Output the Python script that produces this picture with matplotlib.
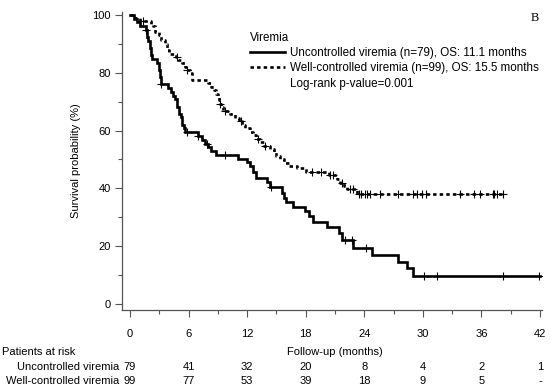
import matplotlib
matplotlib.use("Agg")
import matplotlib.pyplot as plt
from matplotlib.lines import Line2D
import matplotlib.transforms as mtransforms
import numpy as np

plt.rcParams['font.family'] = ['Liberation Sans', 'DejaVu Sans']

# ---- data ----
unc_times = [0, 0.4, 0.7, 1.0, 1.6, 1.7, 1.8, 2.0, 2.1, 2.3, 2.8, 3.0, 3.1, 3.2, 3.9, 4.2, 4.4,
             4.6, 4.8, 5.0, 5.2, 5.3, 5.5, 5.6, 7.0, 7.4, 7.7, 8.0, 8.3, 8.8, 11.1, 12.0, 12.3,
             12.6, 12.9, 14.0, 14.3, 15.6, 15.8, 16.0, 16.7, 17.9, 18.3, 18.7, 20.2, 21.4, 21.7,
             22.8, 24.8, 27.5, 28.4, 29.0, 42.0]
unc_surv = [100, 98.7, 97.5, 96.2, 94.9, 92.4, 91.1, 88.6, 86.1, 84.8, 83.5, 81.0, 78.5, 76.0, 74.7,
            73.4, 72.1, 70.8, 68.3, 65.8, 64.5, 62.0, 60.7, 59.4, 58.1, 56.8, 55.5, 54.2, 52.9, 51.6,
            50.3, 49.0, 47.6, 45.8, 43.6, 42.2, 40.4, 38.5, 36.7, 35.2, 33.6, 32.0, 30.4, 28.4, 26.6,
            24.4, 22.1, 19.4, 17.0, 14.5, 12.5, 9.7, 9.7]
unc_cens = [1.6, 3.2, 5.8, 7.0, 7.9, 9.7, 14.4, 22.0, 22.7, 24.2, 30.1, 31.4, 38.2, 41.9]

wel_times = [0, 0.5, 1.0, 2.1, 2.4, 2.6, 3.0, 3.2, 3.6, 3.8, 4.0, 4.7, 4.9, 5.3, 5.6, 5.8, 6.1, 6.4,
             8.0, 8.3, 8.6, 8.8, 9.0, 9.1, 9.2, 9.3, 9.5, 10.2, 10.8, 11.2, 11.5, 11.8, 12.3, 12.6,
             12.9, 13.3, 13.7, 14.3, 14.7, 15.0, 15.4, 15.8, 16.3, 17.1, 18.0, 20.4, 21.2, 21.5,
             21.9, 22.2, 23.2, 38.4]
wel_surv = [100, 99.0, 98.0, 97.0, 96.0, 94.0, 93.0, 91.3, 90.0, 88.0, 86.5, 85.4, 84.3, 83.2, 82.1,
            81.0, 79.8, 77.5, 76.4, 75.2, 74.0, 72.8, 71.6, 70.4, 69.2, 68.0, 66.8, 65.6, 64.4, 63.2,
            62.0, 60.8, 59.6, 58.4, 57.2, 56.0, 54.8, 53.6, 52.4, 51.2, 50.0, 48.8, 47.6, 46.9, 45.8,
            44.6, 43.3, 42.0, 40.9, 39.9, 38.2, 38.2]
wel_cens = [1.3, 4.8, 5.8, 9.2, 9.7, 11.4, 13.1, 13.8, 18.6, 19.6, 20.5, 20.8, 21.7, 22.5, 22.8,
            23.5, 23.7, 24.1, 24.3, 24.6, 25.6, 27.4, 29.0, 29.4, 29.9, 30.3, 33.8, 35.2, 35.8,
            37.2, 37.3, 37.6, 38.2]

risk_times = [0, 6, 12, 18, 24, 30, 36, 42]
risk_unc = ['79', '41', '32', '20', '8', '4', '2', '1']
risk_wel = ['99', '77', '53', '39', '18', '9', '5', '-']
xticks = [0, 6, 12, 18, 24, 30, 36, 42]
yticks = [0, 20, 40, 60, 80, 100]


def surv_at(times, surv, t):
    idx = np.searchsorted(times, t, side='right') - 1
    return np.array(surv)[idx]


fig = plt.figure(figsize=(5.5, 3.91), dpi=100)
ax = fig.add_axes([122/550, 1-310/391, (542-122)/550, (310-12)/391])

ax.step(unc_times, unc_surv, where='post', color='black', lw=1.9, solid_joinstyle='miter')
ax.step(wel_times, wel_surv, where='post', color='black', lw=1.9, ls=(0, (1.3, 1.2)))
ax.plot(unc_cens, surv_at(unc_times, unc_surv, unc_cens), ls='none', marker='+',
        color='black', ms=6, mew=0.8)
ax.plot(wel_cens, surv_at(wel_times, wel_surv, wel_cens), ls='none', marker='+',
        color='black', ms=6, mew=0.8)

ax.set_xlim(-0.82, 42.2)
ax.set_ylim(-2.1, 101)
ax.set_xticks(xticks)
ax.set_yticks(yticks)
ax.set_xticks(np.arange(3, 42, 6), minor=True)
ax.set_yticks(np.arange(10, 100, 20), minor=True)
for s in ['top', 'right']:
    ax.spines[s].set_visible(False)
for s in ['left', 'bottom']:
    ax.spines[s].set_color('#555555')
    ax.spines[s].set_linewidth(0.9)
ax.tick_params(which='major', length=5, width=0.8, color='#555555', labelsize=8, pad=9)
ax.tick_params(which='minor', length=3, width=0.8, color='#555555')
ax.tick_params(axis='y', pad=3)
ax.set_ylabel('Survival probability (%)', fontsize=8, labelpad=8)

handles = [Line2D([], [], color='black', lw=1.9),
           Line2D([], [], color='black', lw=1.9, ls=(0, (1.3, 1.2))),
           Line2D([], [], color='none')]
labels = ['Uncontrolled viremia (n=79), OS: 11.1 months',
          'Well-controlled viremia (n=99), OS: 15.5 months',
          'Log-rank p-value=0.001']
leg = ax.legend(handles, labels, title='Viremia', loc='upper left',
                bbox_to_anchor=(250/550, 1-32/391), bbox_transform=fig.transFigure,
                frameon=False, fontsize=8.35, title_fontsize=8.35, handlelength=3.0,
                handletextpad=0.43, labelspacing=0.28, borderpad=0, borderaxespad=0,
                alignment='left')

fig.text(535/550, 1-18/391, 'B', fontsize=9, family='Liberation Serif', ha='center', va='center')

trans = mtransforms.blended_transform_factory(ax.transData, fig.transFigure)
fig.text(2/550, 1-352/391, 'Patients at risk', fontsize=8, ha='left', va='center')
ax.text(21, 1-352/391, 'Follow-up (months)', fontsize=8, ha='center', va='center', transform=trans)
fig.text(119/550, 1-367/391, 'Uncontrolled viremia', fontsize=8, ha='right', va='center')
fig.text(119/550, 1-381/391, 'Well-controlled viremia', fontsize=8, ha='right', va='center')
for t, a, b in zip(risk_times, risk_unc, risk_wel):
    ax.text(t, 1-367/391, a, fontsize=8, ha='center', va='center', transform=trans)
    ax.text(t, 1-381/391, b, fontsize=8, ha='center', va='center', transform=trans)

fig.savefig('out.png', dpi=100)
